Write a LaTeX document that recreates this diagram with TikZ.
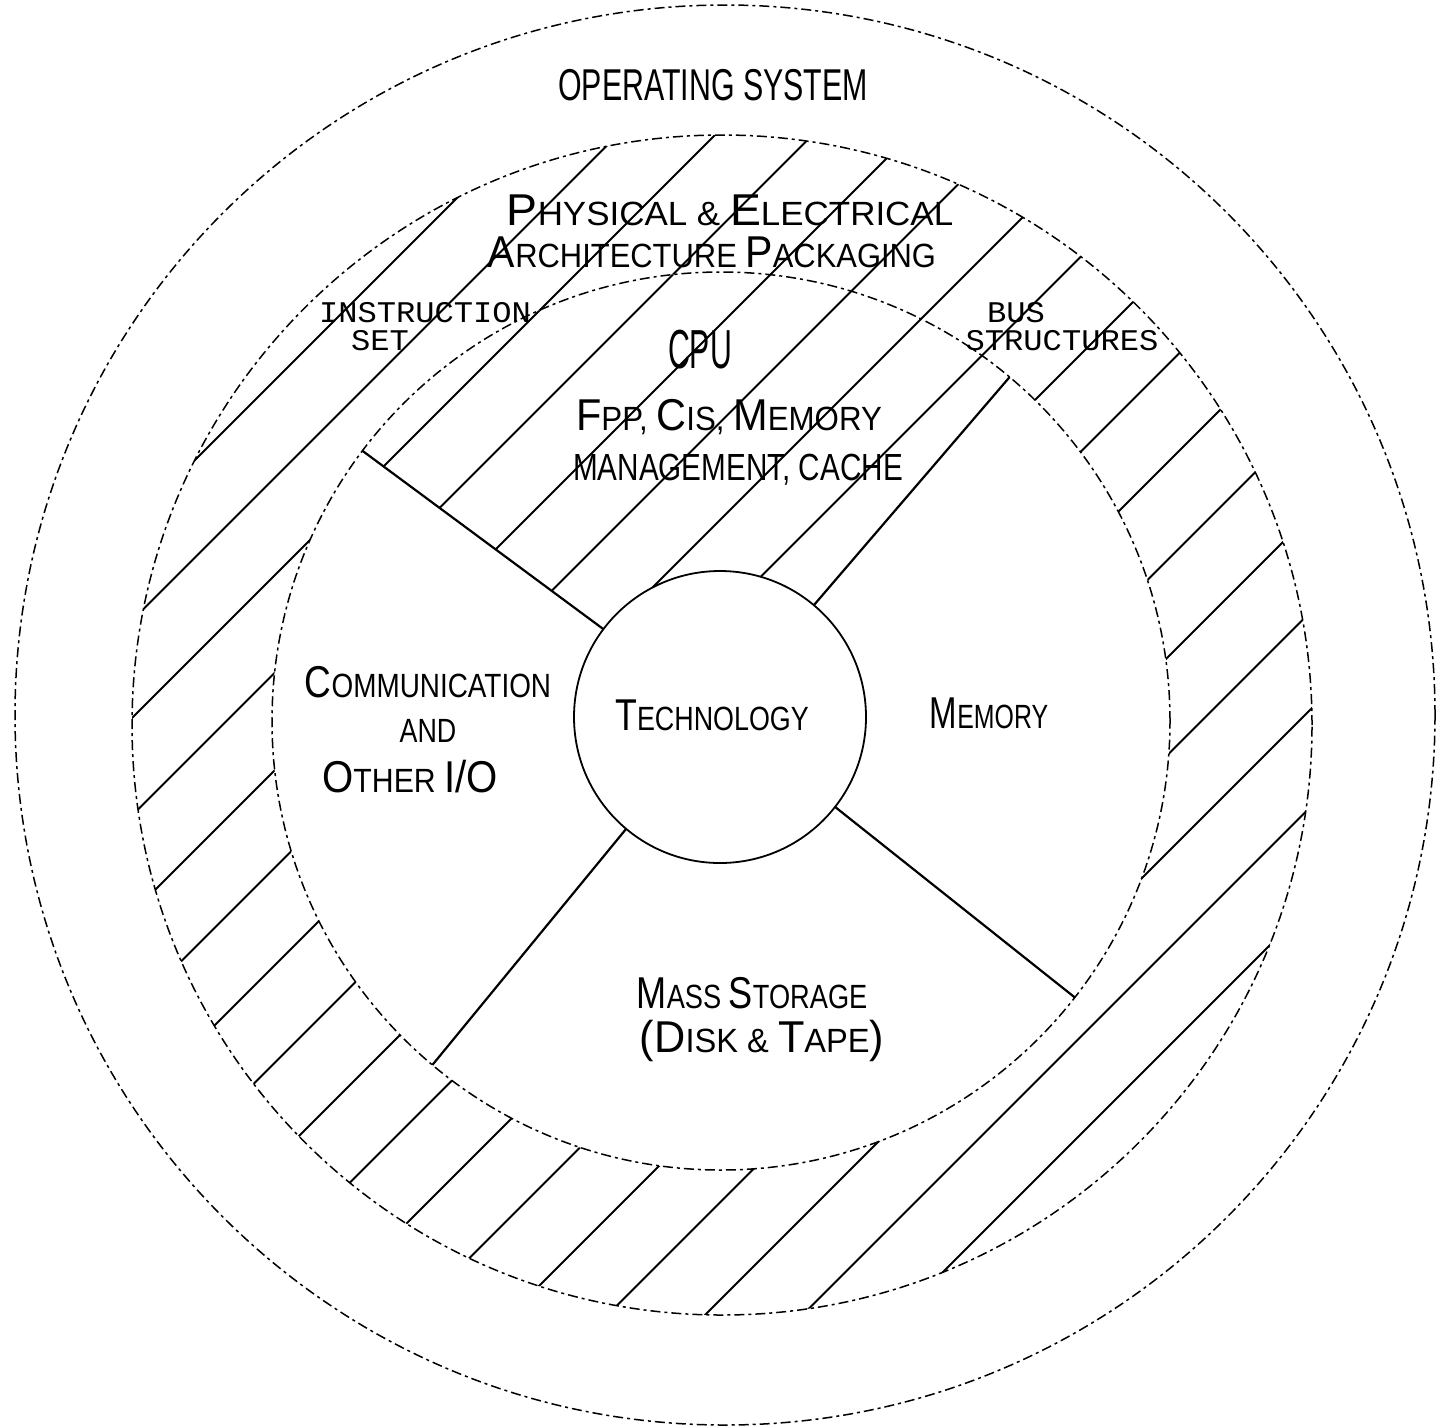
\documentclass[tikz,border=0pt]{standalone}
\usepackage{fontspec}
\newfontfamily\letterfont{Liberation Sans}
\newfontfamily\typefont{Liberation Mono}
% lettering-guide small caps: a tall initial followed by smaller capitals
\newcommand\capsc[2]{{\fontsize{22.3}{24}\selectfont #1}{\fontsize{16.8}{18}\selectfont #2}}
\newcommand\hsq[2]{\scalebox{#1}[1]{#2}}
\begin{document}
\begin{tikzpicture}[x=0.5pt,y=-0.5pt,
  ring/.style={circle, draw, inner sep=0pt, outer sep=0pt, line width=0.75pt,
               dash pattern=on 5pt off 2pt on 1.5pt off 2pt},
  hatch/.style={line width=1pt},
  radial/.style={line width=1.1pt},
  lettering/.style={font=\letterfont\fontsize{16.8}{18}\selectfont, inner sep=0pt, anchor=base},
  typed/.style={font=\typefont\fontsize{15}{17}\selectfont, inner sep=0pt, anchor=base}
]
\useasboundingbox[fill=white] (0,0) rectangle (1449,1425);

% diagonal hatching of the packaging ring
\begin{scope}
  \clip (722,725) circle (590);
  \foreach \k in {-2,...,14} \draw[hatch] ({850+97.5*\k},0) -- ++(-1500,1500);
\end{scope}
\fill[white] (721,721) circle (449);
% diagonal hatching of the CPU sector
\begin{scope}
  \clip (720,717) -- ([shift={(721,721)}]-50:449)
        arc[start angle=-50, end angle=-143, radius=449] -- cycle;
  \foreach \k in {-2,...,14} \draw[hatch] ({850+97.5*\k},0) -- ++(-1500,1500);
\end{scope}

% concentric layers
\node[ring, minimum size=710pt] (os)  at (725,715) {};
\node[ring, minimum size=590pt] (pkg) at (722,725) {};
\node[ring, minimum size=449pt] (sub) at (721,721) {};
\node[circle, draw, fill=white, line width=0.9pt, inner sep=0pt, outer sep=0pt,
      minimum size=146pt] (tech) at (720,717) {};

% sector dividers
\draw[radial] (tech.143) -- (sub.143);
\draw[radial] (tech.50)  -- (sub.50);
\draw[radial] (tech.-38) -- (sub.-38);
\draw[radial] (tech.230) -- (sub.230);

% labels
\node[lettering] (os-title) at (713,100)
  {\hsq{0.68}{\fontsize{22.3}{24}\selectfont OPERATING SYSTEM}};
\node[lettering] (pkg-title1) at (730,225)
  {\hsq{1.04}{\capsc{P}{HYSICAL} \& \capsc{E}{LECTRICAL}}};
\node[lettering] (pkg-title2) at (712,267)
  {\hsq{0.92}{\capsc{A}{RCHITECTURE} \capsc{P}{ACKAGING}}};
\node[typed] (instr1) at (425,322) {\hsq{1.07}{INSTRUCTION}};
\node[typed] (instr2) at (380,350) {\hsq{1.07}{SET}};
\node[typed] (bus1) at (1016,322) {\hsq{1.07}{BUS}};
\node[typed] (bus2) at (1062,350) {\hsq{1.07}{STRUCTURES}};
\node[lettering] (cpu-title) at (700,368)
  {\hsq{0.55}{\fontsize{27.5}{29}\selectfont CPU}};
\node[lettering] (cpu-sub1) at (729,430)
  {\hsq{0.93}{\capsc{F}{PP}, \capsc{C}{IS}, \capsc{M}{EMORY}}};
\node[lettering] (cpu-sub2) at (738,480)
  {\hsq{0.785}{\fontsize{18.9}{20}\selectfont MANAGEMENT, CACHE}};
\node[lettering] (tech-title) at (712,730)
  {\hsq{0.8}{\capsc{T}{ECHNOLOGY}}};
\node[lettering] (io1) at (428,697) {\hsq{0.83}{\capsc{C}{OMMUNICATION}}};
\node[lettering] (io2) at (428,742) {\hsq{0.8}{AND}};
\node[lettering] (io3) at (410,792) {\hsq{0.9}{\capsc{O}{THER} \capsc{I/O}{}}};
\node[lettering] (mem-title) at (989,728) {\hsq{0.74}{\capsc{M}{EMORY}}};
\node[lettering] (mass1) at (752,1008)
  {\hsq{0.81}{\capsc{M}{ASS} \capsc{S}{TORAGE}}};
\node[lettering] (mass2) at (762,1052)
  {\hsq{0.97}{\capsc{(D}{ISK} \& \capsc{T}{APE}\capsc{)}{}}};
\end{tikzpicture}
\end{document}
